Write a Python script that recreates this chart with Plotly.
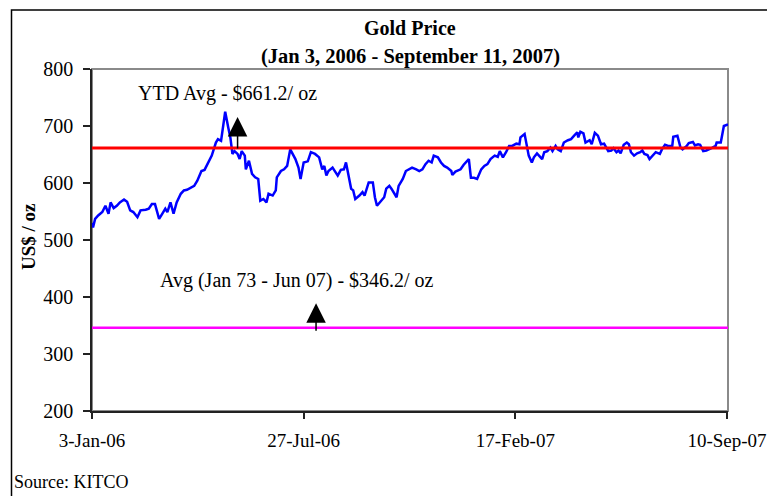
import pandas as pd
import plotly.graph_objects as go

# ---- data ----
start_date = "2006-01-03"
end_date = "2007-09-11"

# calendar-day offset from 3-Jan-2006 of each traced price point
day_offset = [
    0, 1, 3, 6, 10, 13, 16, 18, 21, 24,
    27, 31, 34, 37, 40, 44, 47, 52, 55, 58,
    61, 65, 68, 71, 73, 76, 79, 82, 86, 89,
    92, 95, 99, 102, 106, 109, 113, 116, 120, 122,
    125, 127, 129, 132, 134, 136, 138, 141, 143, 145,
    148, 149, 152, 155, 158, 161, 163, 166, 169, 171,
    175, 178, 179, 183, 186, 189, 192, 197, 200, 202,
    205, 209, 212, 216, 220, 223, 225, 227, 229, 233,
    236, 238, 241, 244, 246, 248, 251, 253, 255, 259,
    262, 264, 268, 272, 274, 276, 280, 283, 285, 288,
    290, 293, 295, 297, 301, 304, 307, 310, 314, 317,
    320, 323, 326, 329, 331, 335, 338, 341, 344, 348,
    349, 352, 357, 360, 365, 367, 370, 373, 377, 380,
    383, 386, 390, 393, 395, 398, 401, 404, 407, 411,
    414, 415, 419, 421, 423, 426, 428, 431, 433, 436,
    438, 441, 444, 446, 449, 451, 454, 457, 461, 464,
    467, 470, 471, 473, 476, 478, 482, 484, 487, 490,
    493, 496, 500, 503, 505, 508, 510, 512, 515, 518,
    520, 522, 525, 528, 531, 533, 535, 538, 540, 543,
    546, 550, 552, 555, 558, 562, 563, 567, 570, 572,
    576, 578, 582, 584, 587, 589, 592, 595, 598, 601,
    604, 605, 609, 610, 612, 616,
]

gold_price = [
    530, 522, 537, 543, 549, 560, 546, 566, 556, 560,
    566, 571, 567, 552, 549, 540, 552, 553, 555, 563,
    563, 537, 546, 555, 549, 566, 546, 566, 581, 587,
    588, 591, 595, 604, 621, 623, 636, 648, 671, 677,
    674, 700, 725, 697, 680, 651, 656, 651, 642, 656,
    648, 624, 639, 616, 610, 607, 569, 572, 566, 581,
    578, 587, 610, 621, 624, 630, 659, 642, 627, 607,
    636, 638, 654, 651, 645, 624, 630, 613, 621, 627,
    619, 613, 623, 624, 636, 616, 590, 587, 572, 578,
    584, 578, 601, 601, 575, 560, 569, 575, 590, 595,
    590, 581, 575, 595, 607, 621, 624, 627, 624, 621,
    624, 633, 639, 636, 648, 645, 636, 630, 627, 621,
    614, 620, 624, 632, 642, 609, 609, 607, 624, 630,
    633, 642, 648, 646, 656, 645, 654, 665, 665, 669,
    668, 680, 686, 665, 648, 636, 645, 652, 648, 642,
    654, 656, 662, 656, 665, 659, 656, 671, 675, 677,
    683, 689, 680, 690, 687, 671, 675, 668, 688, 683,
    668, 669, 656, 657, 661, 654, 657, 652, 667, 671,
    668, 654, 648, 652, 654, 657, 651, 649, 642, 649,
    654, 651, 659, 667, 665, 665, 681, 683, 662, 659,
    665, 670, 672, 666, 668, 667, 656, 657, 659, 662,
    665, 671, 671, 680, 700, 703,
]

ytd_avg = 661.2
long_avg = 346.2

tick_dates = ["2006-01-03", "2006-07-27", "2007-02-17", "2007-09-10"]
tick_labels = ["3-Jan-06", "27-Jul-06", "17-Feb-07", "10-Sep-07"]

title_lines = ["Gold Price", "(Jan 3, 2006 - September 11, 2007)"]
y_title = "US$ / oz"
ytd_label = "YTD Avg - $661.2/ oz"
long_label = "Avg (Jan 73 - Jun 07) - $346.2/ oz"
source_label = "Source: KITCO"

# ---- build ----
dates = pd.Timestamp(start_date) + pd.to_timedelta(day_offset, unit="D")
FONT = "Liberation Serif"

fig = go.Figure()
fig.add_trace(go.Scatter(x=dates, y=gold_price, mode="lines",
                         line=dict(color="#0000FF", width=2.5), hoverinfo="skip"))
fig.add_trace(go.Scatter(x=[start_date, end_date], y=[ytd_avg, ytd_avg], mode="lines",
                         line=dict(color="#FF0000", width=3), hoverinfo="skip"))
fig.add_trace(go.Scatter(x=[start_date, end_date], y=[long_avg, long_avg], mode="lines",
                         line=dict(color="#FF00FF", width=2.5), hoverinfo="skip"))

L, R, T, B = 92, 39, 69, 85
W, H = 767, 496
pw, ph = W - L - R, H - T - B


def px_x(x):
    return (x - L) / pw


def px_y(y):
    return (H - B - y) / ph


annotations = [
    dict(text="<b>%s</b>" % title_lines[0], xref="paper", yref="paper",
         x=px_x(410), y=px_y(28), xanchor="center", yanchor="middle",
         showarrow=False, font=dict(family=FONT, size=20, color="black")),
    dict(text="<b>%s</b>" % title_lines[1], xref="paper", yref="paper",
         x=px_x(410), y=px_y(57), xanchor="center", yanchor="middle",
         showarrow=False, font=dict(family=FONT, size=20.5, color="black")),
    dict(text="<b>%s</b>" % y_title, xref="paper", yref="paper",
         x=px_x(28), y=px_y(237), xanchor="center", yanchor="middle",
         textangle=-90, showarrow=False,
         font=dict(family=FONT, size=19, color="black")),
    dict(text=ytd_label, x="2006-02-15", y=757, xanchor="left", yanchor="middle",
         showarrow=False, font=dict(family=FONT, size=20, color="black")),
    dict(text=long_label, x="2006-03-08", y=429.5, xanchor="left", yanchor="middle",
         showarrow=False, font=dict(family=FONT, size=20, color="black")),
    dict(text="", x="2006-05-24", y=716, ax="2006-05-24", ay=658,
         axref="x", ayref="y", showarrow=True, arrowhead=2, arrowsize=2.6,
         arrowwidth=1.5, arrowcolor="black"),
    dict(text="", x="2006-08-08", y=389, ax="2006-08-08", ay=338,
         axref="x", ayref="y", showarrow=True, arrowhead=2, arrowsize=2.6,
         arrowwidth=1.5, arrowcolor="black"),
    dict(text=source_label, xref="paper", yref="paper",
         x=px_x(12), y=px_y(482), xanchor="left", yanchor="middle",
         showarrow=False, font=dict(family=FONT, size=18, color="black")),
]

shapes = [
    dict(type="rect", xref="paper", yref="paper", x0=0, x1=1, y0=0, y1=1,
         line=dict(color="#8a8a8a", width=2), fillcolor="rgba(0,0,0,0)", layer="below"),
    dict(type="rect", xref="paper", yref="paper",
         x0=px_x(11.5), x1=px_x(790), y0=px_y(520), y1=px_y(10),
         line=dict(color="black", width=1.5), fillcolor="rgba(0,0,0,0)"),
]

fig.update_layout(
    width=W, height=H,
    margin=dict(l=L, r=R, t=T, b=B, pad=0, autoexpand=False),
    paper_bgcolor="white", plot_bgcolor="white",
    showlegend=False,
    font=dict(family=FONT, size=20, color="black"),
    annotations=annotations,
    shapes=shapes,
)
fig.update_xaxes(
    type="date", range=[start_date, end_date], automargin=False,
    tickvals=tick_dates, ticktext=tick_labels,
    showgrid=False, zeroline=False,
    showline=True, linecolor="#222222", linewidth=1.5,
    ticks="outside", ticklen=6, tickwidth=1.5, tickcolor="#222222",
    tickfont=dict(family=FONT, size=19, color="black"),
    ticklabelstandoff=5, ticklabeloverflow="allow",
)
fig.update_yaxes(
    range=[200, 800], tick0=200, dtick=100, automargin=False,
    showgrid=False, zeroline=False,
    showline=True, linecolor="#222222", linewidth=1.5,
    ticks="outside", ticklen=7, tickwidth=1.5, tickcolor="#222222",
    tickfont=dict(family=FONT, size=20, color="black"),
    ticklabelstandoff=6,
)

fig.write_html(
    "out.html",
    config={"displayModeBar": False},
    post_script="document.body.style.margin='0';document.body.style.overflow='hidden';",
)
